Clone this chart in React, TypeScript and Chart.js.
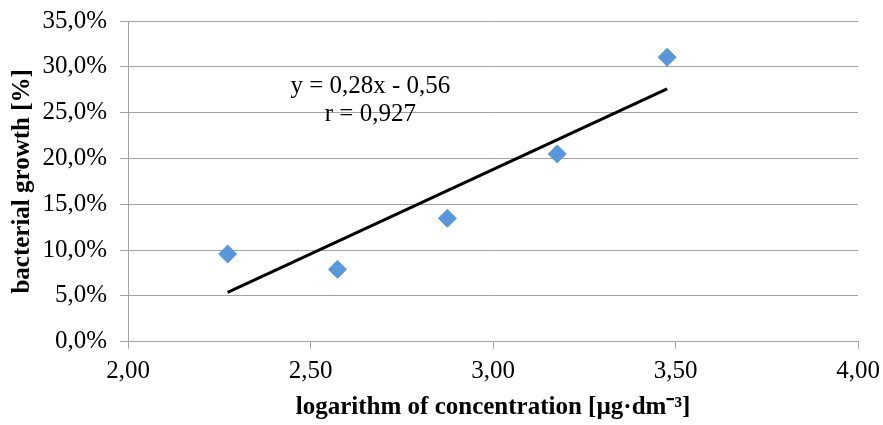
import React, { useEffect, useRef } from "react";
import { Chart, registerables } from "chart.js";

Chart.register(...registerables);

// ---- data ----
const logConcentration: number[] = [2.273, 2.574, 2.875, 3.176, 3.477];
const bacterialGrowth: number[] = [0.0957, 0.079, 0.1347, 0.2049, 0.3104];

const xTickMin = 2;
const xTickMax = 4;
const xTickStep = 0.5;
const yTickMin = 0;
const yTickMax = 0.35;
const yTickStep = 0.05;

const xTitle = "logarithm of concentration [µg·dm⁻³]";
const yTitle = "bacterial growth [%]";
const equationLine1 = "y = 0,28x - 0,56";
const equationLine2 = "r = 0,927";

// least-squares trend line over the data range
function trendPoints(xs: number[], ys: number[]) {
  const n = xs.length;
  const mx = xs.reduce((a, b) => a + b, 0) / n;
  const my = ys.reduce((a, b) => a + b, 0) / n;
  let sxy = 0;
  let sxx = 0;
  for (let i = 0; i < n; i++) {
    sxy += (xs[i] - mx) * (ys[i] - my);
    sxx += (xs[i] - mx) * (xs[i] - mx);
  }
  const slope = sxy / sxx;
  const intercept = my - slope * mx;
  const x0 = Math.min(...xs);
  const x1 = Math.max(...xs);
  return [
    { x: x0, y: intercept + slope * x0 },
    { x: x1, y: intercept + slope * x1 },
  ];
}

const FONT = "'Liberation Serif', 'Times New Roman', serif";
const GRID = "#a3a3a3";

const equationPlugin = {
  id: "equationText",
  afterDatasetsDraw(chart: any) {
    const { ctx, chartArea } = chart;
    const cx = chartArea.left + (chartArea.right - chartArea.left) * 0.332;
    ctx.save();
    ctx.font = `25px ${FONT}`;
    ctx.fillStyle = "#000";
    ctx.textAlign = "center";
    ctx.textBaseline = "middle";
    ctx.fillText(equationLine1, cx, chartArea.top + 65);
    ctx.fillText(equationLine2, cx, chartArea.top + 93);
    ctx.restore();
  },
};

export default function App() {
  const canvasRef = useRef<HTMLCanvasElement | null>(null);

  useEffect(() => {
    if (!canvasRef.current) return;
    const points = logConcentration.map((x, i) => ({ x, y: bacterialGrowth[i] }));
    const chart = new Chart(canvasRef.current, {
      type: "scatter",
      data: {
        datasets: [
          {
            type: "line",
            data: trendPoints(logConcentration, bacterialGrowth),
            borderColor: "#000",
            borderWidth: 3,
            pointRadius: 0,
            fill: false,
            order: 2,
          } as any,
          {
            data: points,
            pointStyle: "rectRot",
            pointRadius: 9,
            pointBackgroundColor: "#5a97d8",
            pointBorderColor: "#5a97d8",
            pointBorderWidth: 1,
            order: 1,
          },
        ],
      },
      options: {
        responsive: false,
        animation: false,
        layout: { padding: { top: 21, right: 25, left: 0, bottom: 0 } },
        plugins: {
          legend: { display: false },
          tooltip: { enabled: false },
        },
        scales: {
          x: {
            type: "linear",
            min: xTickMin,
            max: xTickMax,
            afterFit: (s: any) => {
              s.height = 83.3;
              s.paddingLeft = 0;
              s.paddingRight = 0;
              s.paddingTop = 0;
              s.paddingBottom = 0;
            },
            ticks: {
              stepSize: xTickStep,
              color: "#000",
              padding: 8,
              font: { family: FONT, size: 25 },
              callback: (v: any) => Number(v).toFixed(2).replace(".", ","),
            },
            grid: {
              drawOnChartArea: false,
              tickLength: 7,
              tickColor: GRID,
            },
            border: { color: GRID, width: 1 },
            title: {
              display: true,
              text: xTitle,
              color: "#000",
              font: { family: FONT, size: 25, weight: "bold" },
              padding: { top: 0, bottom: 2 },
            },
          },
          y: {
            min: yTickMin,
            max: yTickMax,
            afterFit: (s: any) => {
              s.width = 128;
              s.paddingLeft = 0;
              s.paddingRight = 0;
              s.paddingTop = 0;
              s.paddingBottom = 0;
            },
            ticks: {
              stepSize: yTickStep,
              color: "#000",
              padding: 13,
              font: { family: FONT, size: 25 },
              callback: (v: any) => (Number(v) * 100).toFixed(1).replace(".", ",") + "%",
            },
            grid: {
              color: GRID,
              tickLength: 8,
              tickColor: GRID,
            },
            border: { color: GRID, width: 1 },
            title: {
              display: true,
              text: yTitle,
              color: "#000",
              font: { family: FONT, size: 25, weight: "bold" },
              padding: { top: 8, bottom: 0 },
            },
          },
        },
      },
      plugins: [equationPlugin],
    });
    return () => chart.destroy();
  }, []);

  return (
    <div style={{ position: "absolute", left: 0, top: 0, width: 883, height: 425, background: "#fff" }}>
      <canvas ref={canvasRef} width={883} height={425} />
    </div>
  );
}
